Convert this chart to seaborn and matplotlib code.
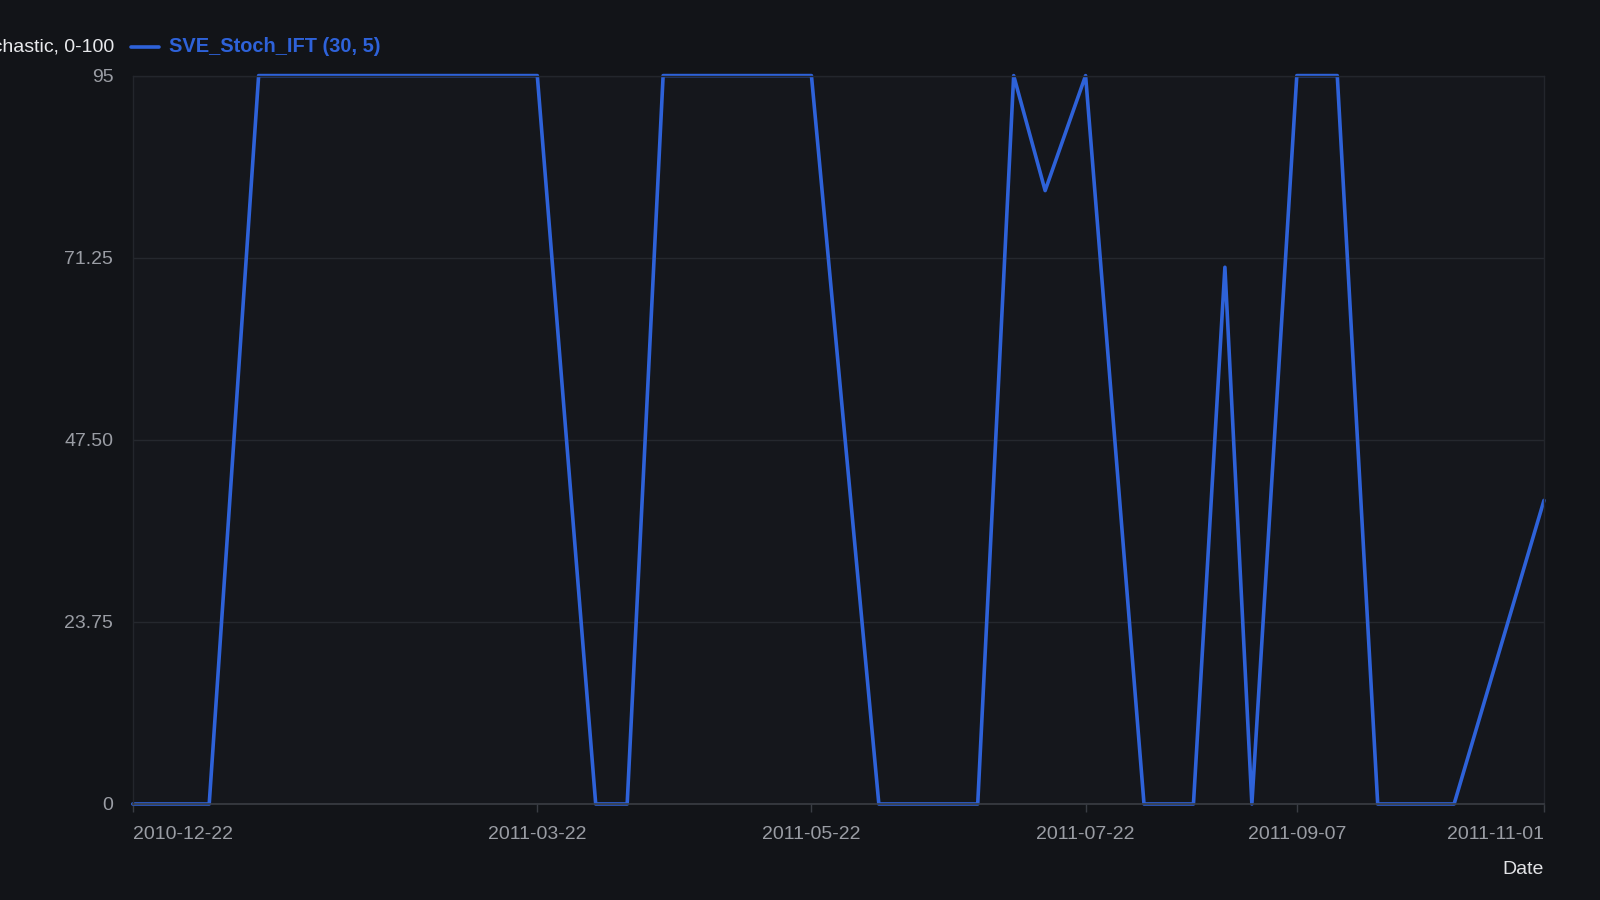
import matplotlib
matplotlib.use("Agg")
import matplotlib.pyplot as plt
import matplotlib.dates as mdates
from matplotlib.lines import Line2D
import seaborn as sns
import pandas as pd

dates = ["2010-12-22", "2011-01-08", "2011-01-19", "2011-03-22", "2011-04-04",
         "2011-04-11", "2011-04-19", "2011-05-22", "2011-06-06", "2011-06-28",
         "2011-07-06", "2011-07-13", "2011-07-22", "2011-08-04", "2011-08-15",
         "2011-08-22", "2011-08-28", "2011-09-07", "2011-09-16", "2011-09-25",
         "2011-10-12", "2011-11-01"]
values = [0, 0, 95, 95, 0,
          0, 95, 95, 0, 0,
          95, 80, 95, 0, 0,
          70, 0, 95, 95, 0,
          0, 39.6]
x_ticks = ["2010-12-22", "2011-03-22", "2011-05-22", "2011-07-22", "2011-09-07", "2011-11-01"]
y_ticks = [0, 23.75, 47.50, 71.25, 95]
y_tick_labels = ["0", "23.75", "47.50", "71.25", "95"]
series_name = "SVE_Stoch_IFT (30, 5)"
other_label = "SVE Stochastic, 0-100"

df = pd.DataFrame({"Date": pd.to_datetime(dates), "value": values})

sns.set_theme(style="dark")
plt.rcParams["font.family"] = ["Liberation Sans", "DejaVu Sans"]

FIG_BG = "#121418"
AX_BG = "#15171c"
LINE = "#2e62d9"
GRID = "#25282e"
TXT = "#9a9da4"

fig = plt.figure(figsize=(16, 9), dpi=100, facecolor=FIG_BG)
ax = fig.add_axes([0.083, 0.1067, 0.882, 0.8093])
ax.set_facecolor(AX_BG)

sns.lineplot(data=df, x="Date", y="value", ax=ax, color=LINE, linewidth=2.6)
for ln in ax.get_lines():
    ln.set_clip_on(False)
    ln.set_solid_joinstyle("round")
    ln.set_solid_capstyle("round")

ax.set_xlim(pd.Timestamp(x_ticks[0]), pd.Timestamp(x_ticks[-1]))
ax.set_ylim(0, 95)
ax.set_xticks(pd.to_datetime(x_ticks))
ax.xaxis.set_major_formatter(mdates.DateFormatter("%Y-%m-%d"))
ax.set_yticks(y_ticks)
ax.set_yticklabels(y_tick_labels)

ax.grid(axis="y", color=GRID, linewidth=1)
ax.grid(axis="x", visible=False)
for side in ["top", "right", "left"]:
    ax.spines[side].set_visible(True)
    ax.spines[side].set_color("#23262c")
    ax.spines[side].set_linewidth(1)
ax.spines["bottom"].set_color("#3a3d44")
ax.spines["bottom"].set_linewidth(1.2)

ax.tick_params(axis="x", colors=TXT, labelsize=14, length=6, width=1, pad=10, bottom=True)
ax.tick_params(axis="x", color="#3a3d44")
ax.tick_params(axis="y", colors=TXT, labelsize=14, length=0, pad=14)

fig.canvas.draw()
xlabels = ax.get_xticklabels()
xlabels[0].set_ha("left")
xlabels[-1].set_ha("right")

ax.set_xlabel("")
ax.set_ylabel("")
fig.text(0.965, 0.034, "Date", ha="right", va="center", color="#e2e3e6", fontsize=14)

# legend row
fig.text(0.0715, 0.948, other_label, ha="right", va="center", color="#e8e9ec", fontsize=14)
fig.add_artist(Line2D([0.082, 0.0995], [0.948, 0.948], transform=fig.transFigure,
                      color=LINE, linewidth=2.6))
fig.text(0.1055, 0.948, series_name, ha="left", va="center", color=LINE,
         fontsize=14.4, fontweight="bold")

fig.savefig("out.png", dpi=100, facecolor=FIG_BG)
